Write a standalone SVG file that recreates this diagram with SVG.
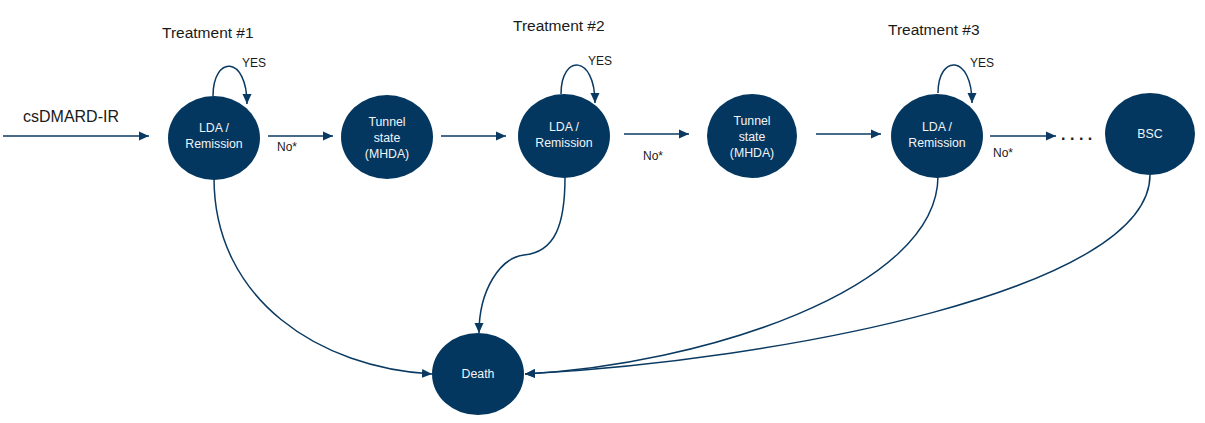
<svg xmlns="http://www.w3.org/2000/svg" width="1205" height="423" viewBox="0 0 1205 423">
<defs>
<marker id="ah" markerUnits="userSpaceOnUse" markerWidth="10" markerHeight="10" viewBox="0 0 10 10" refX="10" refY="5" orient="auto">
<path d="M0,0.5 L10,5 L0,9.5 Z" fill="#0A3A62"/>
</marker>
<style>
.n{fill:#03375F}
.t{fill:#F2F4F7;font-family:"Liberation Sans",Arial,sans-serif;font-size:12.3px;text-anchor:middle}
.c{fill:none;stroke:#0A3A62;stroke-width:1.5;marker-end:url(#ah)}
.lb{fill:#1A1A1A;font-family:"Liberation Sans",Arial,sans-serif}
</style>
</defs>
<rect width="1205" height="423" fill="#FFFFFF"/>
<g id="labels">
<text class="lb" x="162" y="38" font-size="15.5">Treatment #1</text>
<text class="lb" x="513" y="31" font-size="15.5">Treatment #2</text>
<text class="lb" x="888" y="35" font-size="15.5">Treatment #3</text>
<text class="lb" x="23" y="122" font-size="16">csDMARD-IR</text>
<text class="lb" x="242" y="67" font-size="12">YES</text>
<text class="lb" x="588" y="65" font-size="12">YES</text>
<text class="lb" x="970" y="67" font-size="12">YES</text>
<text class="lb" x="277" y="151" font-size="12">No*</text>
<text class="lb" x="643" y="160" font-size="12">No*</text>
<text class="lb" x="993" y="157" font-size="12">No*</text>
<text class="lb" x="1061" y="140" font-size="16" letter-spacing="4.5" font-weight="bold">....</text>
</g>
<g id="connectors">
<path class="c" d="M3,136 L149,136"/>
<path class="c" d="M268,136 L333,136"/>
<path class="c" d="M441,136 L506,136"/>
<path class="c" d="M624,134 L689,134"/>
<path class="c" d="M816,134 L881,134"/>
<path class="c" d="M990,136 L1056,136"/>
<path class="c" d="M213,96 C213,55 247,55 247,104"/>
<path class="c" d="M561,94 C561,54 595,54 595,103"/>
<path class="c" d="M938,93 C938,54 972,54 972,103"/>
<path class="c" d="M214,178 C214,300 320,368 432,374"/>
<path class="c" d="M565,177 C565,225 555,252 524,255 C500,258 479,290 479,333"/>
<path class="c" d="M938,176 C938,290 700,365 525,374"/>
<path class="c" d="M1150,175 C1150,290 780,360 525,374"/>
</g>
<g id="node-lda1"><ellipse class="n" cx="214" cy="138" rx="46" ry="42"/><text class="t" x="214" y="132">LDA /</text><text class="t" x="214" y="148">Remission</text></g>
<g id="node-tunnel1"><ellipse class="n" cx="387" cy="137" rx="46" ry="42"/><text class="t" x="387" y="126">Tunnel</text><text class="t" x="387" y="142">state</text><text class="t" x="387" y="158">(MHDA)</text></g>
<g id="node-lda2"><ellipse class="n" cx="564" cy="136" rx="46" ry="42"/><text class="t" x="564" y="131">LDA /</text><text class="t" x="564" y="147">Remission</text></g>
<g id="node-tunnel2"><ellipse class="n" cx="752" cy="136" rx="45" ry="42"/><text class="t" x="752" y="125">Tunnel</text><text class="t" x="752" y="141">state</text><text class="t" x="752" y="157">(MHDA)</text></g>
<g id="node-lda3"><ellipse class="n" cx="937" cy="136" rx="46" ry="42"/><text class="t" x="937" y="131">LDA /</text><text class="t" x="937" y="147">Remission</text></g>
<g id="node-bsc"><ellipse class="n" cx="1150" cy="134" rx="45" ry="41"/><text class="t" x="1150" y="138">BSC</text></g>
<g id="node-death"><ellipse class="n" cx="478" cy="374" rx="46" ry="41"/><text class="t" x="478" y="378">Death</text></g>
</svg>
